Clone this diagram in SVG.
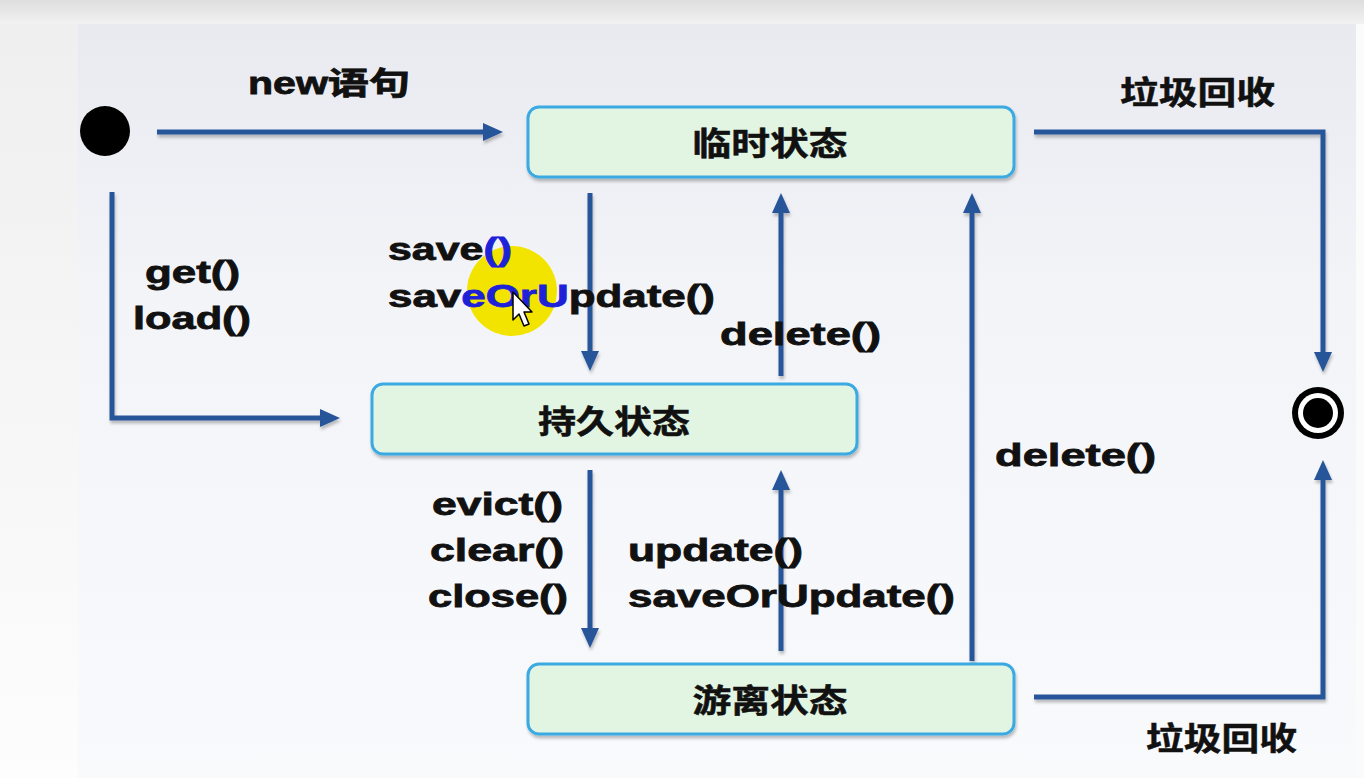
<svg xmlns="http://www.w3.org/2000/svg" width="1364" height="778" viewBox="0 0 1364 778">
  <defs>
    <linearGradient id="topbar" x1="0" y1="0" x2="0" y2="1">
      <stop offset="0" stop-color="#dedede"/>
      <stop offset="1" stop-color="#f2f2f2"/>
    </linearGradient>
    <linearGradient id="leftbar" x1="0" y1="0" x2="0" y2="1">
      <stop offset="0" stop-color="#efefef"/>
      <stop offset="1" stop-color="#fdfdfd"/>
    </linearGradient>
    <linearGradient id="panel" x1="0" y1="0" x2="0" y2="1">
      <stop offset="0" stop-color="#e8eaf0"/>
      <stop offset="0.35" stop-color="#f3f4f8"/>
      <stop offset="1" stop-color="#f9fafc"/>
    </linearGradient>
    <filter id="shadow" filterUnits="userSpaceOnUse" x="0" y="0" width="1364" height="778">
      <feDropShadow dx="1" dy="3" stdDeviation="1.5" flood-color="#000" flood-opacity="0.25"/>
    </filter>
    <marker id="arrow" markerUnits="userSpaceOnUse" markerWidth="22" markerHeight="20" refX="9" refY="9" orient="auto">
      <path d="M0,0 L20,9 L0,18 z" fill="#28549a"/>
    </marker>
    <style>
      .conn { fill: none; stroke: #28549a; stroke-width: 5; filter: url(#shadow); }
      .box { fill: #e2f5e2; stroke: #3aa9e2; stroke-width: 3; filter: url(#shadow); }
      .lbl { font-family: "Liberation Sans", Arial, "Noto Sans CJK SC", sans-serif; font-weight: bold; font-size: 31px; fill: #111; stroke: #111; stroke-width: 0.8px; }
      .cjk { font-family: "Noto Sans CJK SC", "Liberation Sans", sans-serif; font-weight: bold; font-size: 32px; fill: #111; stroke: #111; stroke-width: 0.5px; }
      .hl { fill: #1d22d8; stroke: #1d22d8; }
    </style>
  </defs>

  <!-- background -->
  <rect x="0" y="0" width="1364" height="778" fill="#fbfbfb"/>
  <rect x="0" y="0" width="1364" height="24" fill="url(#topbar)"/>
  <rect x="0" y="24" width="78" height="754" fill="url(#leftbar)"/>
  <rect x="78" y="24" width="1278" height="754" fill="url(#panel)"/>

  <!-- cursor highlight -->
  <circle cx="512" cy="291" r="45" fill="#f3e400"/>

  <!-- connectors -->
  <g id="connectors">
    <line class="conn" x1="157" y1="132" x2="492" y2="132" marker-end="url(#arrow)"/>
    <polyline class="conn" points="1034,132 1323,132 1323,361" marker-end="url(#arrow)"/>
    <polyline class="conn" points="112,192 112,418 329,418" marker-end="url(#arrow)"/>
    <line class="conn" x1="590" y1="193" x2="590" y2="360" marker-end="url(#arrow)"/>
    <line class="conn" x1="781" y1="376" x2="781" y2="204" marker-end="url(#arrow)"/>
    <line class="conn" x1="590" y1="470" x2="590" y2="637" marker-end="url(#arrow)"/>
    <line class="conn" x1="781" y1="651" x2="781" y2="481" marker-end="url(#arrow)"/>
    <line class="conn" x1="972" y1="661" x2="972" y2="204" marker-end="url(#arrow)"/>
    <polyline class="conn" points="1034,697 1323,697 1323,471" marker-end="url(#arrow)"/>
  </g>

  <!-- start node -->
  <g id="start">
    <circle cx="105" cy="131" r="25" fill="#000"/>
  </g>

  <!-- end node -->
  <g id="end">
    <circle cx="1318" cy="413" r="26" fill="#000"/>
    <circle cx="1318" cy="413" r="20" fill="#fff"/>
    <circle cx="1318" cy="413" r="15" fill="#000"/>
  </g>

  <g id="transient">
    <rect class="box" x="528" y="107" width="486" height="70" rx="11"/>
    <text class="cjk" x="770" y="155" text-anchor="middle" textLength="155" lengthAdjust="spacingAndGlyphs">临时状态</text>
  </g>

  <g id="persistent">
    <rect class="box" x="372" y="384" width="485" height="70" rx="11"/>
    <text class="cjk" x="614" y="433" text-anchor="middle" textLength="152" lengthAdjust="spacingAndGlyphs">持久状态</text>
  </g>

  <g id="detached">
    <rect class="box" x="528" y="664" width="486" height="70" rx="11"/>
    <text class="cjk" x="770" y="712" text-anchor="middle" textLength="155" lengthAdjust="spacingAndGlyphs">游离状态</text>
  </g>

  <!-- labels -->
  <g id="labels">
    <text class="lbl" x="248" y="94" textLength="162" lengthAdjust="spacingAndGlyphs">new语句</text>
    <text class="cjk" x="1120" y="104" textLength="155" lengthAdjust="spacingAndGlyphs">垃圾回收</text>
    <text class="lbl" x="145" y="283" textLength="95" lengthAdjust="spacingAndGlyphs">get()</text>
    <text class="lbl" x="133" y="329" textLength="118" lengthAdjust="spacingAndGlyphs">load()</text>
    <text class="lbl" x="388" y="260" textLength="124" lengthAdjust="spacingAndGlyphs">save<tspan class="hl">()</tspan></text>
    <text class="lbl" x="388" y="307" textLength="327" lengthAdjust="spacingAndGlyphs">sav<tspan class="hl">eOrU</tspan>pdate()</text>
    <text class="lbl" x="720" y="345" textLength="161" lengthAdjust="spacingAndGlyphs">delete()</text>
    <text class="lbl" x="995" y="466" textLength="161" lengthAdjust="spacingAndGlyphs">delete()</text>
    <text class="lbl" x="432" y="515" textLength="131" lengthAdjust="spacingAndGlyphs">evict()</text>
    <text class="lbl" x="430" y="561" textLength="134" lengthAdjust="spacingAndGlyphs">clear()</text>
    <text class="lbl" x="428" y="607" textLength="140" lengthAdjust="spacingAndGlyphs">close()</text>
    <text class="lbl" x="628" y="561" textLength="175" lengthAdjust="spacingAndGlyphs">update()</text>
    <text class="lbl" x="628" y="607" textLength="327" lengthAdjust="spacingAndGlyphs">saveOrUpdate()</text>
    <text class="cjk" x="1146" y="750" textLength="151" lengthAdjust="spacingAndGlyphs">垃圾回收</text>
  </g>

  <!-- mouse pointer -->
  <path d="M513,292 L513,320 L519,314 L524,326 L529,324 L524,312 L532,312 Z" fill="#fff" stroke="#000" stroke-width="1.5" stroke-linejoin="round"/>
</svg>
